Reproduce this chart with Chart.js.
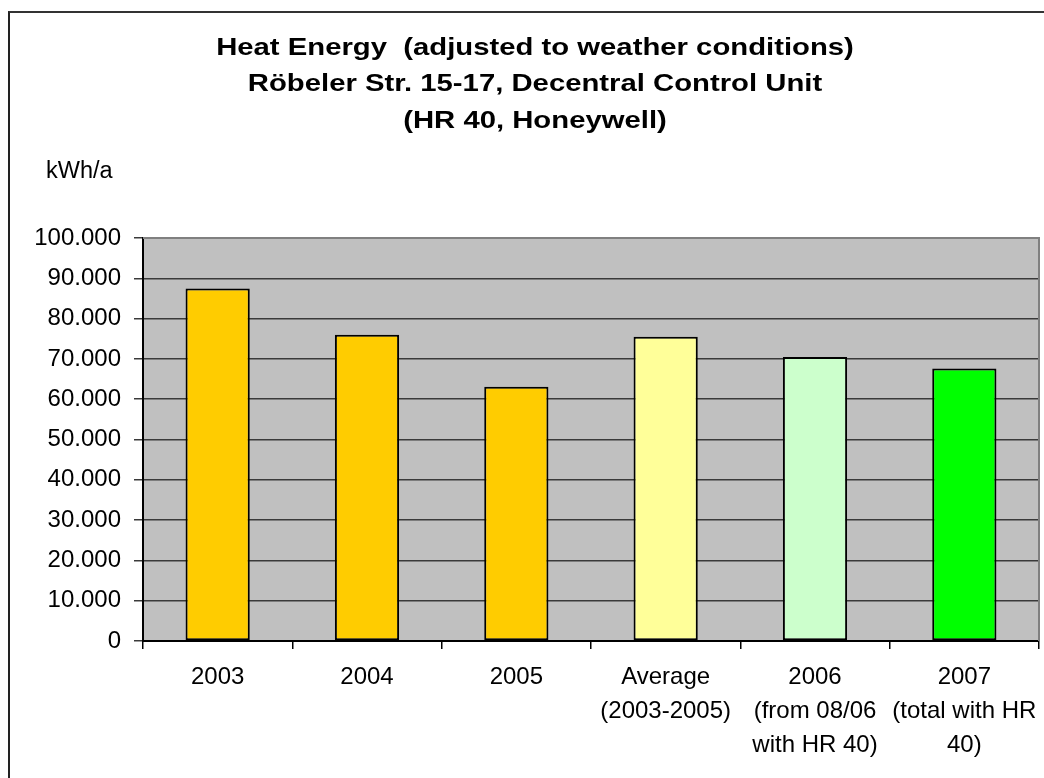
<!DOCTYPE html>
<html>
<head>
<meta charset="utf-8">
<script src="https://cdn.jsdelivr.net/npm/chart.js@4"></script>
<style>
  html, body { margin: 0; padding: 0; background: #fff; overflow: hidden; }
  #frame {
    position: absolute; left: 8px; top: 11px;
    width: 1054px; height: 780px;
    border-left: 2px solid #222; border-top: 2px solid #333;
  }
</style>
</head>
<body>
<div id="frame"><canvas id="myChart" width="1054" height="780"></canvas></div>
<script>
// values (kWh/a)
const categories = [
  ['2003'],
  ['2004'],
  ['2005'],
  ['Average', '(2003-2005)'],
  ['2006', '(from 08/06', 'with HR 40)'],
  ['2007', '(total with HR', '40)']
];
const heatEnergy = [87500, 76000, 63100, 75500, 70500, 67600];
const barColors = ['#FFCC00', '#FFCC00', '#FFCC00', '#FFFF99', '#CCFFCC', '#00FF00'];
const titleLines = [
  'Heat Energy  (adjusted to weather conditions)',
  'Röbeler Str. 15-17, Decentral Control Unit',
  '(HR 40, Honeywell)'
];
const unitLabel = 'kWh/a';

const FONT = "'Liberation Sans', Arial, sans-serif";

// thousands separator as in the original: 100.000
const fmt = v => String(v).replace(/\B(?=(\d{3})+(?!\d))/g, '.');

// grey plot area, grey top/right frame, stretched title and the unit label
const decorations = {
  id: 'decorations',
  beforeDraw(chart) {
    const { ctx, chartArea: a } = chart;
    ctx.save();
    ctx.fillStyle = '#C0C0C0';
    ctx.fillRect(a.left, a.top, a.right - a.left, a.bottom - a.top);
    ctx.restore();
  },
  afterDraw(chart) {
    const { ctx, chartArea: a } = chart;
    ctx.save();
    ctx.strokeStyle = '#808080';
    ctx.lineWidth = 2;
    ctx.beginPath();
    ctx.moveTo(a.left, a.top);
    ctx.lineTo(a.right, a.top);
    ctx.lineTo(a.right, a.bottom);
    ctx.stroke();

    // the original title is horizontally stretched
    ctx.fillStyle = '#000';
    ctx.font = 'bold 24px ' + FONT;
    ctx.textBaseline = 'middle';
    ctx.textAlign = 'center';
    titleLines.forEach((line, i) => {
      ctx.save();
      ctx.translate(525, 35 + i * 36.5);
      ctx.scale(1.22, 1);
      ctx.fillText(line, 0, 0);
      ctx.restore();
    });

    ctx.font = '23.5px ' + FONT;
    ctx.textAlign = 'left';
    ctx.fillText(unitLabel, 36, 158.5);
    ctx.restore();
  }
};

const config = {
  type: 'bar',
  data: {
    labels: categories,
    datasets: [{
      data: heatEnergy,
      backgroundColor: barColors,
      borderColor: '#000',
      borderWidth: 2,
      borderSkipped: false,
      categoryPercentage: 1,
      barPercentage: 0.43
    }]
  },
  options: {
    responsive: false,
    animation: false,
    layout: { padding: { left: 0, right: 25, top: 225, bottom: 0 } },
    plugins: {
      legend: { display: false },
      tooltip: { enabled: false },
      title: { display: false }
    },
    scales: {
      x: {
        grid: {
          drawOnChartArea: false,
          color: '#000',
          lineWidth: 1.5,
          tickLength: 8
        },
        border: { display: true, color: '#000', width: 2 },
        ticks: {
          color: '#000',
          font: { family: FONT, size: 24, lineHeight: 1.4 },
          padding: 12,
          maxRotation: 0,
          autoSkip: false
        },
        afterFit(scale) {
          scale.height = 152;
          scale.paddingLeft = 0;
          scale.paddingRight = 0;
        }
      },
      y: {
        min: 0,
        max: 100000,
        grid: {
          color: '#3a3a3a',
          lineWidth: 1.5,
          tickLength: 9
        },
        border: { display: true, color: '#000', width: 2 },
        ticks: {
          stepSize: 10000,
          color: '#000',
          font: { family: FONT, size: 24 },
          padding: 13,
          callback: v => fmt(v)
        },
        afterFit(scale) {
          scale.width = 133;
        }
      }
    }
  },
  plugins: [decorations]
};

const myChart = new Chart(document.getElementById('myChart'), config);
</script>
</body>
</html>
